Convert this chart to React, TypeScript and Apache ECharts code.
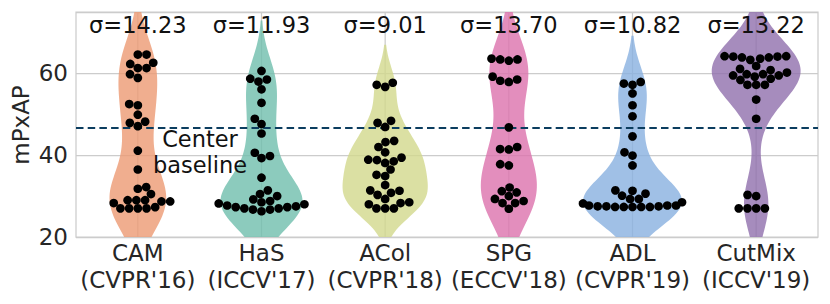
import React, { useEffect, useRef } from "react";
import * as echarts from "echarts";

const categories = [
  "CAM\n(CVPR'16)",
  "HaS\n(ICCV'17)",
  "ACol\n(CVPR'18)",
  "SPG\n(ECCV'18)",
  "ADL\n(CVPR'19)",
  "CutMix\n(ICCV'19)",
];
const sigmaLabels = ["σ=14.23", "σ=11.93", "σ=9.01", "σ=13.70", "σ=10.82", "σ=13.22"];

const camValues = [64.6, 64.6, 62.6, 62.3, 61.3, 61.3, 59.8, 58.9, 52.5, 52.2, 49.9, 48.2, 47.9, 47.1, 41.1, 36.5, 32.2, 31.8, 30.5, 29.0, 29.0, 29.0, 28.7, 28.7, 28.3, 27.3, 27.0, 27.0, 27.0, 27.0];
const hasValues = [60.6, 58.7, 58.5, 58.0, 56.1, 52.8, 48.9, 47.6, 45.3, 40.6, 39.8, 39.3, 34.5, 31.4, 30.5, 30.0, 29.2, 28.8, 28.5, 28.2, 28.0, 27.7, 27.5, 27.3, 27.3, 27.0, 27.0, 26.7, 26.7, 26.3];
const acolValues = [57.7, 57.2, 56.7, 48.4, 47.9, 46.9, 43.5, 43.2, 42.0, 40.7, 39.4, 38.9, 38.8, 38.5, 38.1, 36.5, 35.2, 34.9, 32.7, 31.4, 31.3, 30.8, 30.3, 29.3, 28.5, 28.3, 28.0, 27.0, 27.0, 27.0];
const spgValues = [63.6, 63.4, 63.4, 63.1, 59.2, 58.5, 58.2, 57.9, 46.8, 42.0, 41.5, 41.4, 37.8, 37.5, 32.1, 31.2, 30.9, 30.0, 29.3, 28.8, 28.3, 28.3, 26.9];
const adlValues = [57.9, 57.5, 57.2, 55.1, 52.2, 49.5, 44.6, 40.7, 39.9, 37.5, 31.4, 31.3, 30.6, 30.1, 29.3, 29.3, 28.5, 28.2, 27.7, 27.7, 27.7, 27.5, 27.5, 27.5, 27.35, 27.35, 27.35, 27.35, 27.35];
const cutmixValues = [64.2, 64.2, 64.1, 64.1, 63.9, 63.9, 63.6, 63.3, 61.8, 61.1, 60.8, 60.2, 59.8, 59.8, 59.5, 59.5, 59.2, 58.7, 58.4, 57.2, 57.2, 57.2, 53.6, 48.9, 30.3, 30.0, 27.0, 27.0, 27.0, 27.0];

const allValues = [camValues, hasValues, acolValues, spgValues, adlValues, cutmixValues];
const violinColors = ["#ec9a73", "#6fbeac", "#d2d88c", "#dc72ac", "#88b0e0", "#906fac"];
const baselineValue = 46.7;
const yMin = 20;
const yMax = 75;
const yInterval = 20;
const sigmaLabelY = 71.8;

type Kde = { lo: number; hi: number; grid: number[]; dens: (y: number) => number; peak: number };

function makeKde(vals: number[]): Kde {
  const n = vals.length;
  const mean = vals.reduce((a, b) => a + b, 0) / n;
  const sd = Math.sqrt(vals.reduce((a, b) => a + (b - mean) * (b - mean), 0) / (n - 1));
  const bw = sd * Math.pow(n, -0.2);
  const mn = Math.min(...vals);
  const mx = Math.max(...vals);
  const lo = mn - 2 * bw;
  const hi = mx + 2 * bw;
  const norm = 1 / (n * bw * Math.sqrt(2 * Math.PI));
  const dens = (y: number) => {
    let s = 0;
    for (const v of vals) {
      const z = (y - v) / bw;
      s += Math.exp(-0.5 * z * z);
    }
    return s * norm;
  };
  const grid: number[] = [];
  let peak = 0;
  for (let i = 0; i < 100; i++) {
    const g = lo + ((hi - lo) * i) / 99;
    grid.push(g);
    peak = Math.max(peak, dens(g));
  }
  return { lo, hi, grid, dens, peak };
}

const kdes = allValues.map(makeKde);
const globalPeak = Math.max(...kdes.map((k) => k.peak));

function beeswarm(ys: number[], d: number, mid: number): { x: number; y: number }[] {
  const swarm: { x: number; y: number }[] = [];
  ys.forEach((y, i) => {
    if (i === 0) {
      swarm.push({ x: mid, y });
      return;
    }
    const neighbors: { x: number; y: number }[] = [];
    for (let j = swarm.length - 1; j >= 0; j--) {
      if (swarm[j].y - y < d) neighbors.unshift(swarm[j]);
      else break;
    }
    const cands: { x: number; y: number }[] = [{ x: mid, y }];
    let leftFirst = true;
    for (const nb of neighbors) {
      const dy = y - nb.y;
      const dx = Math.sqrt(Math.max(d * d - dy * dy, 0)) * 1.05;
      const cl = { x: nb.x - dx, y };
      const cr = { x: nb.x + dx, y };
      if (leftFirst) cands.push(cl, cr);
      else cands.push(cr, cl);
      leftFirst = !leftFirst;
    }
    const sorted = cands
      .map((c, k) => ({ c, k }))
      .sort((a, b) => Math.abs(a.c.x - mid) - Math.abs(b.c.x - mid) || a.k - b.k)
      .map((o) => o.c);
    let chosen = sorted[sorted.length - 1];
    for (const c of sorted) {
      const ok = neighbors.every((nb) => (nb.x - c.x) ** 2 + (nb.y - c.y) ** 2 >= d * d - 1e-6);
      if (ok) {
        chosen = c;
        break;
      }
    }
    swarm.push(chosen);
  });
  return swarm;
}

function hexToRgba(hex: string, a: number) {
  const r = parseInt(hex.slice(1, 3), 16);
  const g = parseInt(hex.slice(3, 5), 16);
  const b = parseInt(hex.slice(5, 7), 16);
  return `rgba(${r},${g},${b},${a})`;
}

const FONT = '"DejaVu Sans", sans-serif';
const TEXT_COLOR = "#262626";

export default function App() {
  const ref = useRef<HTMLDivElement>(null);
  useEffect(() => {
    if (!ref.current) return;
    const chart = echarts.init(ref.current, undefined, { renderer: "svg" });
    const catData = categories.map((_, i) => [i, yMin]);

    const option: any = {
      animation: false,
      backgroundColor: "#ffffff",
      grid: {
        left: 76,
        right: 12,
        top: 12,
        bottom: 67,
        show: true,
        borderColor: "#cccccc",
        borderWidth: 1.25,
        backgroundColor: "transparent",
      },
      xAxis: {
        type: "category",
        data: categories,
        boundaryGap: true,
        axisLine: { show: false },
        axisTick: { show: false },
        splitLine: { show: false },
        axisLabel: {
          color: TEXT_COLOR,
          fontFamily: FONT,
          fontSize: 23,
          lineHeight: 26.5,
          margin: 3,
          interval: 0,
        },
      },
      yAxis: {
        type: "value",
        min: yMin,
        max: yMax,
        interval: yInterval,
        axisLine: { show: false },
        axisTick: { show: false },
        splitLine: { show: true, lineStyle: { color: "#cccccc", width: 1.25 } },
        axisLabel: {
          color: TEXT_COLOR,
          fontFamily: FONT,
          fontSize: 23,
          margin: 8,
          showMaxLabel: false,
        },
      },
      graphic: [
        {
          type: "text",
          x: 21,
          y: 125,
          rotation: Math.PI / 2,
          style: {
            text: "mPxAP",
            fill: TEXT_COLOR,
            fontFamily: FONT,
            fontSize: 23,
            align: "center",
            verticalAlign: "middle",
          },
          z: 20,
        },
        {
          type: "text",
          x: 200,
          y: 152,
          style: {
            text: "Center\nbaseline",
            fill: "#111111",
            fontFamily: FONT,
            fontSize: 22.5,
            lineHeight: 25.5,
            align: "center",
            verticalAlign: "middle",
          },
          z: 20,
        },
      ],
      series: [
        {
          type: "custom",
          name: "violins",
          z: 2,
          data: catData,
          encode: { x: 0, y: 1 },
          renderItem: (params: any, api: any) => {
            const idx = api.value(0);
            const kde = kdes[idx];
            const cx = api.coord([idx, yMin])[0];
            const bandW = api.size([1, 0])[0];
            const half = 0.4 * bandW;
            const yLo = Math.max(kde.lo, yMin);
            const yHi = Math.min(kde.hi, yMax);
            const ys = [yLo, ...kde.grid.filter((g) => g > yLo && g < yHi), yHi];
            const right = ys.map((y) => [cx + (half * kde.dens(y)) / globalPeak, api.coord([idx, y])[1]]);
            const left = ys
              .slice()
              .reverse()
              .map((y) => [cx - (half * kde.dens(y)) / globalPeak, api.coord([idx, y])[1]]);
            const top = api.coord([idx, yMax])[1];
            const bottom = api.coord([idx, yMin])[1];
            return {
              type: "group",
              children: [
                {
                  type: "line",
                  shape: { x1: cx, y1: top, x2: cx, y2: bottom },
                  style: { stroke: "#cccccc", lineWidth: 1.25 },
                },
                {
                  type: "polygon",
                  shape: { points: right.concat(left) },
                  style: { fill: hexToRgba(violinColors[idx], 0.8) },
                },
              ],
            };
          },
          markLine: {
            silent: true,
            symbol: ["none", "none"],
            label: { show: false },
            lineStyle: { color: "#0b3d5f", width: 2.2, type: [7.5, 4.2] },
            data: [{ yAxis: baselineValue }],
          },
        },
        {
          type: "custom",
          name: "swarm",
          z: 10,
          data: catData,
          encode: { x: 0, y: 1 },
          renderItem: (params: any, api: any) => {
            const idx = api.value(0);
            const vals = allValues[idx].slice().sort((a, b) => a - b);
            const cx = api.coord([idx, yMin])[0];
            const bandW = api.size([1, 0])[0];
            const half = 0.4 * bandW;
            const d = 8.3;
            const ys = vals.map((v) => api.coord([idx, v])[1]);
            const pts = beeswarm(ys, d, cx).map((p) => ({
              x: Math.min(cx + half, Math.max(cx - half, p.x)),
              y: p.y,
            }));
            const children: any[] = pts.map((p) => ({
              type: "circle",
              shape: { cx: p.x, cy: p.y, r: 4.35 },
              style: { fill: "#000000" },
            }));
            children.push({
              type: "text",
              x: cx,
              y: api.coord([idx, sigmaLabelY])[1],
              style: {
                text: sigmaLabels[idx],
                fill: "#111111",
                fontFamily: FONT,
                fontSize: 22.5,
                align: "center",
                verticalAlign: "middle",
              },
            });
            return { type: "group", children };
          },
        },
      ],
    };
    chart.setOption(option);
    return () => chart.dispose();
  }, []);
  return (
    <div
      ref={ref}
      style={{ position: "fixed", left: 0, top: 0, width: 830, height: 304 }}
    />
  );
}
